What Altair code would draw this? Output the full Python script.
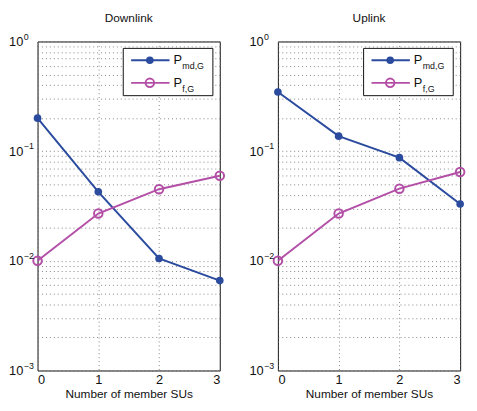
import altair as alt
import pandas as pd

members = [0, 1, 2, 3]
down_pmd = [0.20, 0.0426, 0.0105, 0.0066]
down_pf = [0.010, 0.027, 0.045, 0.0596]
up_pmd = [0.346, 0.137, 0.0873, 0.033]
up_pf = [0.010, 0.027, 0.0455, 0.0646]
panel_titles = ["Downlink", "Uplink"]
series_keys = ["md", "f"]
series_subs = ["md,G", "f,G"]
x_title = "Number of member SUs"
x_ticks = [0, 1, 2, 3]
y_ticks = [round(m * 10 ** e, 6) for e in (-3, -2, -1) for m in range(1, 10)] + [1]
y_majors = [1, 0.1, 0.01, 0.001]
y_exponents = ["0", "−1", "−2", "−3"]

BLUE = "#2a4b9e"
MAG = "#b34fa6"
W, H = 185, 334
FONT = "Liberation Sans"

label_expr = "(" + " || ".join(f"datum.value == {v}" for v in y_majors) + ") ? '10' : ''"


def panel(title, pmd, pf):
    df = pd.DataFrame({
        "x": members * 2,
        "y": pmd + pf,
        "s": [series_keys[0]] * 4 + [series_keys[1]] * 4,
    })
    xscale = alt.Scale(domain=[0, 3], nice=False, zero=False)
    yscale = alt.Scale(type="log", domain=[0.001, 1], nice=False)
    xenc = alt.X("x:Q", scale=xscale,
                 axis=alt.Axis(values=x_ticks, title=x_title, format="d"))
    yenc = alt.Y("y:Q", scale=yscale,
                 axis=alt.Axis(values=y_ticks, labelExpr=label_expr, title=None,
                               labelPadding=15))
    base = alt.Chart(df).encode(x=xenc, y=yenc)
    color = alt.Color("s:N", scale=alt.Scale(domain=series_keys, range=[BLUE, MAG]), legend=None)
    lines = base.mark_line(strokeWidth=2).encode(color=color)
    pts_md = base.transform_filter(alt.datum.s == "md").mark_point(
        filled=True, size=60, color=BLUE, opacity=1)
    pts_f = base.transform_filter(alt.datum.s == "f").mark_point(
        filled=False, size=75, strokeWidth=2, color=MAG, opacity=1)

    exp_df = pd.DataFrame({"v": y_majors, "e": y_exponents})
    exps = alt.Chart(exp_df).mark_text(fontSize=9, font=FONT, align="left", baseline="middle",
                                       color="#111", dy=-5).encode(
        y=alt.Y("v:Q", scale=yscale), x=alt.value(-14), text="e:N")

    one = pd.DataFrame({"a": [0]})
    box = alt.Chart(one).mark_rect(fill="white", stroke="#111", strokeWidth=1).encode(
        x=alt.value(W - 98), x2=alt.value(W - 7), y=alt.value(7), y2=alt.value(55))
    leg = [box]
    for i, (col, sub, filled) in enumerate(zip([BLUE, MAG], series_subs, [True, False])):
        yy = 19 + 23 * i
        leg.append(alt.Chart(one).mark_rule(color=col, strokeWidth=2).encode(
            x=alt.value(W - 90), x2=alt.value(W - 51), y=alt.value(yy)))
        if filled:
            leg.append(alt.Chart(one).mark_point(filled=True, size=60, color=col, opacity=1).encode(
                x=alt.value(W - 71), y=alt.value(yy)))
        else:
            leg.append(alt.Chart(one).mark_point(filled=False, size=75, strokeWidth=2, color=col,
                                                 opacity=1).encode(x=alt.value(W - 71), y=alt.value(yy)))
        leg.append(alt.Chart(one).mark_text(text="P", fontSize=13, font=FONT, align="left",
                                            baseline="middle", color="#111").encode(
            x=alt.value(W - 47), y=alt.value(yy)))
        leg.append(alt.Chart(one).mark_text(text=sub, fontSize=9, font=FONT, align="left",
                                            baseline="middle", color="#111").encode(
            x=alt.value(W - 38), y=alt.value(yy + 6)))

    return alt.layer(lines, pts_md, pts_f, exps, *leg).properties(
        width=W, height=H,
        title=alt.TitleParams(title, fontSize=12, fontWeight="normal", font=FONT,
                              color="#111", offset=8),
    )


chart = alt.hconcat(
    panel(panel_titles[0], down_pmd, down_pf),
    panel(panel_titles[1], up_pmd, up_pf),
    spacing=20,
).properties(
    padding={"left": 0, "top": 0, "right": 0, "bottom": 0}
).configure_view(
    stroke="#111", strokeWidth=1
).configure_axis(
    labelFont=FONT, titleFont=FONT, labelFontSize=13, titleFontSize=12,
    labelColor="#111", titleColor="#111", titleFontWeight="normal",
    domain=False, ticks=False,
    grid=True, gridColor="#666", gridDash=[1, 3], gridWidth=0.8,
).configure_axisX(titlePadding=2, labelPadding=3)

chart.save("out.html", embed_options={"renderer": "svg", "actions": False})
